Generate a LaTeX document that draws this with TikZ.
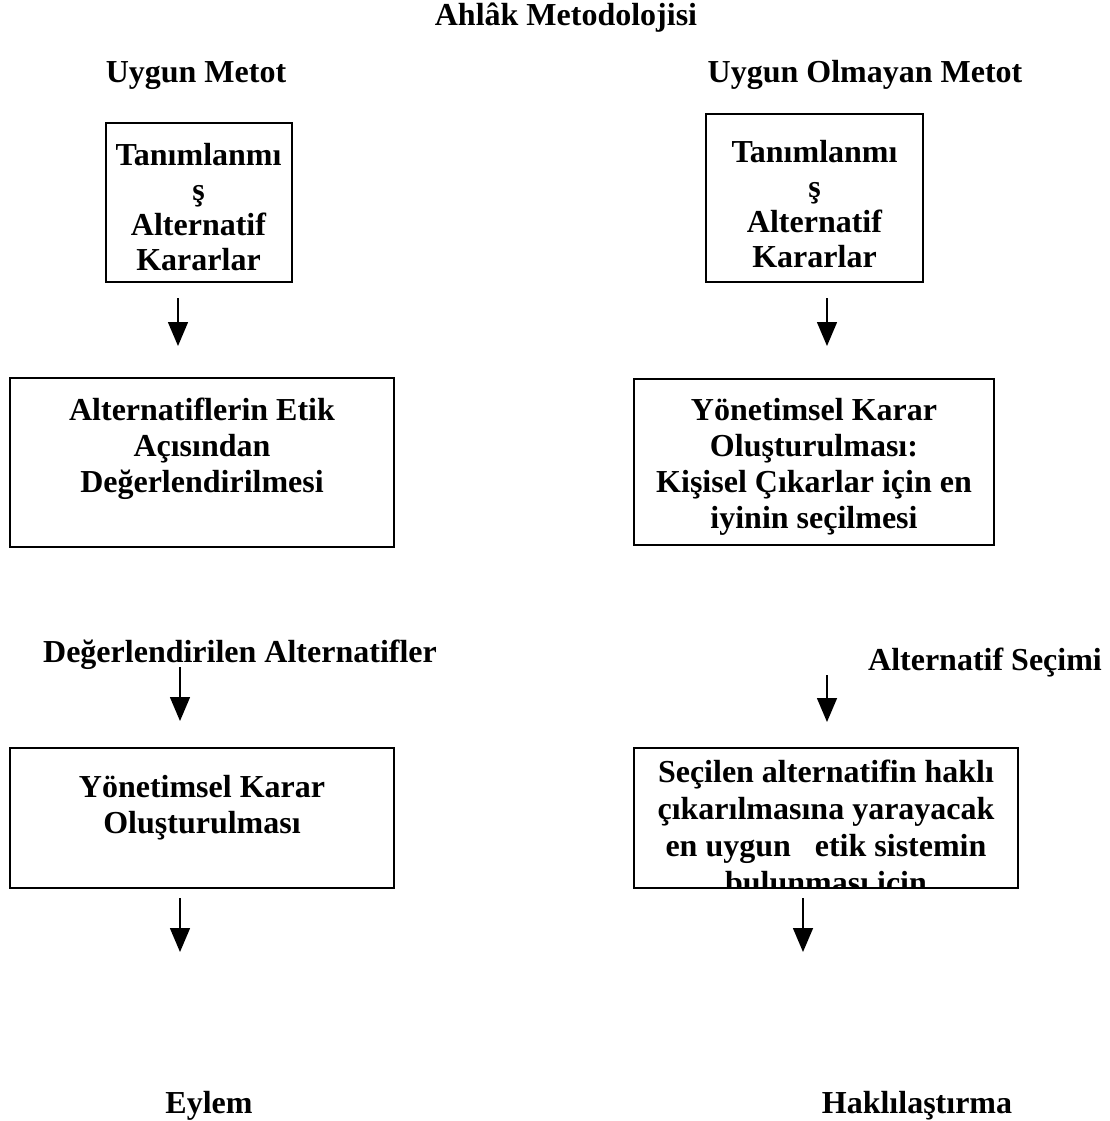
\documentclass[tikz,border=0pt]{standalone}
\usepackage{fontspec}
\setmainfont{Liberation Serif}
\usetikzlibrary{arrows.meta,calc}
\begin{document}
\begin{tikzpicture}[x=1pt,y=-1pt,
  box/.style={draw, line width=2pt, inner sep=0pt, rectangle},
  txt/.style={font=\fontsize{32}{36}\selectfont\bfseries, inner sep=0pt, align=center},
  txtb/.style={txt, font=\fontsize{32}{35}\selectfont\bfseries},
  head/.style={txt, anchor=base},
  arr/.style={line width=1.5pt, -{Triangle[width=20pt,length=24pt]}}]
\useasboundingbox (0,0) rectangle (1109,1121);

% headings
\node[head] (title) at (566,26) {Ahlâk Metodolojisi};
\node[head] (h1) at (196,83) {Uygun Metot};
\node[head] (h2) at (865,83) {Uygun Olmayan Metot};

% boxes
\node[box, minimum width=186pt, minimum height=159pt] (b1) at (198.5,202.5) {};
\node[box, minimum width=217pt, minimum height=168pt] (b2) at (814.5,198) {};
\node[box, minimum width=384pt, minimum height=169pt] (b3) at (202,462.5) {};
\node[box, minimum width=360pt, minimum height=166pt] (b4) at (814,462) {};
\node[box, minimum width=384pt, minimum height=140pt] (b5) at (202,818) {};
\node[box, minimum width=384pt, minimum height=140pt] (b6) at (826,818) {};

% box texts
\node[txtb, anchor=north] (t1) at (198.5,135) {\rule{0pt}{30pt}Tanımlanmı\\ş\\Alternatif\\Kararlar};
\node[txtb, anchor=north] (t2) at (814.5,132) {\rule{0pt}{30pt}Tanımlanmı\\ş\\Alternatif\\Kararlar};
\node[txt, anchor=north] (t3) at (202,390) {\rule{0pt}{30pt}Alternatiflerin Etik\\Açısından\\Değerlendirilmesi};
\node[txt, anchor=north] (t4) at (814,390) {\rule{0pt}{30pt}Yönetimsel Karar\\Oluşturulması:\\Kişisel Çıkarlar için en\\iyinin seçilmesi};
\node[txt, anchor=north] (t5) at (202,767) {\rule{0pt}{30pt}Yönetimsel Karar\\Oluşturulması};
\begin{scope}
  \clip ($(b6.south west)+(1,-1)$) rectangle ($(b6.north east)+(-1,1)$);
  \node[txt, anchor=north, font=\fontsize{32}{37}\selectfont\bfseries] (t6) at (826,752) {\rule{0pt}{30pt}Seçilen alternatifin haklı\\çıkarılmasına yarayacak\\en uygun \ \ etik sistemin\\bulunması için};
\end{scope}

% free labels
\node[head] (dl) at (240,662) {Değerlendirilen Alternatifler};
\node[head] (ds) at (985,670) {Alternatif Seçimi};
\node[head] (ey) at (209,1113) {Eylem};
\node[head] (hk) at (917,1113) {Haklılaştırma};

% arrows
\draw[arr] ($(b1.south)+(-20.5,15)$) -- ($(b3.north)+(-24,-31)$);
\draw[arr] ($(b2.south)+(12.5,15)$) -- ($(b4.north)+(13,-32)$);
\draw[arr] ($(dl.base)+(-60,5)$) -- ($(b5.north)+(-22,-26)$);
\draw[arr] ($(ds.base)+(-158,5)$) -- ($(b6.north)+(1,-25)$);
\draw[arr] ($(b5.south)+(-22,9)$) -- ($(ey.base)+(-29,-161)$);
\draw[arr] ($(b6.south)+(-23,9)$) -- ($(hk.base)+(-114,-161)$);
\end{tikzpicture}
\end{document}
